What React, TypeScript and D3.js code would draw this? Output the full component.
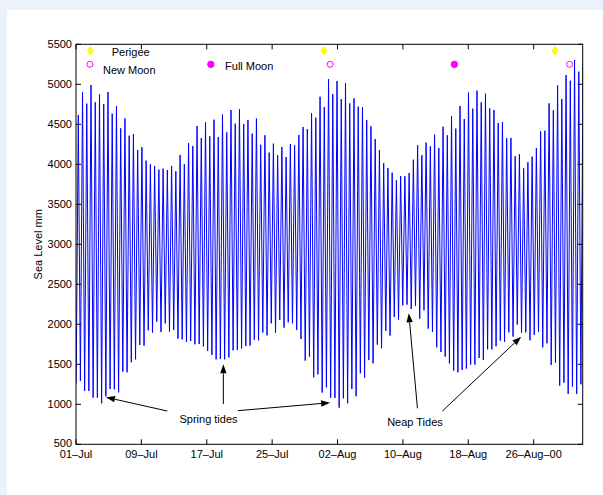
import React, { useEffect, useRef } from "react";
import * as d3 from "d3";

// high water heights (mm), one per semidiurnal tide, 01-Jul onwards
const highs = [
  4616, 4900, 4758, 4991, 4775, 4875, 4754, 4904, 4633, 4729,
  4450, 4575, 4358, 4375, 4179, 4213, 4046, 4000, 3979, 3933,
  3946, 3929, 3979, 3913, 4117, 4000, 4266, 4229, 4479, 4329,
  4525, 4350, 4558, 4341, 4621, 4400, 4679, 4508, 4688, 4504,
  4554, 4383, 4571, 4245, 4363, 4146, 4258, 4113, 4216, 4091,
  4254, 4238, 4366, 4466, 4441, 4638, 4583, 4845, 4716, 5066,
  4879, 5041, 4816, 5016, 4762, 4825, 4720, 4716, 4554, 4475,
  4316, 4179, 4016, 3954, 3895, 3800, 3854, 3850, 3891, 4058,
  4238, 4113, 4271, 4225, 4370, 4204, 4470, 4363, 4604, 4446,
  4729, 4566, 4896, 4696, 4921, 4775, 4883, 4700, 4679, 4516,
  4529, 4325, 4329, 4100, 4125, 3950, 4025, 4095, 4204, 4412,
  4420, 4762, 4675, 4987, 4816, 5116, 5045, 5304, 5158, 5262,
];

// low water heights (mm), each one just before the high of the same index
const lows = [
  1262, 1291, 1166, 1166, 1083, 1083, 1012, 1100, 1191, 1187,
  1150, 1408, 1400, 1525, 1562, 1741, 1733, 1925, 1896, 2033,
  1904, 2012, 1908, 1929, 1821, 1812, 1779, 1791, 1750, 1754,
  1725, 1667, 1617, 1562, 1566, 1562, 1587, 1675, 1679, 1700,
  1729, 1733, 1808, 1800, 1896, 1862, 2012, 1891, 2054, 1958,
  2025, 2012, 1929, 1817, 1546, 1596, 1337, 1375, 1146, 1212,
  1083, 1079, 958, 1075, 1012, 1191, 1100, 1387, 1333, 1554,
  1512, 1746, 1700, 1917, 1858, 2091, 2058, 2237, 2246, 2192,
  2229, 2071, 2175, 1946, 1904, 1712, 1654, 1596, 1512, 1421,
  1400, 1429, 1446, 1496, 1496, 1579, 1554, 1687, 1687, 1725,
  1796, 1779, 1900, 1846, 1996, 1896, 1900, 1800, 1867, 1904,
  1712, 1762, 1492, 1521, 1233, 1271, 1129, 1221, 1129, 1250,
];

const firstLow = 0.02; // days after 01-Jul 00:00
const tidePeriod = 0.519; // days

// x ticks (days after 01-Jul)
const tickDays = [0, 8, 16, 24, 32, 40, 48, 56];
const tickLabels = ["01\u2013Jul", "09\u2013Jul", "17\u2013Jul", "25\u2013Jul", "02\u2013Aug", "10\u2013Aug", "18\u2013Aug", "26\u2013Aug\u201300"];
const yTicks = [500, 1000, 1500, 2000, 2500, 3000, 3500, 4000, 4500, 5000, 5500];

// astronomical events (days after 01-Jul)
const perigeeDays = [1.75, 30.35, 58.6];
const newMoonDays = [1.7, 31.1, 60.4];
const fullMoonDays = [16.5, 46.3];
const perigeeLevel = 5420;
const moonLevel = 5250;

// annotations: [day, level]
const springArrows = [
  [[11.17, 916], [3.67, 1088]],
  [[18.03, 1004], [18.03, 1500]],
  [[19.79, 920], [31.09, 1020]],
];
const neapArrows = [
  [[41.78, 950], [40.72, 2138]],
  [[44.83, 916], [54.47, 1845]],
];

const App = () => {
  const svgRef = useRef(null);

  useEffect(() => {
    drawChart();
  }, []);

  const drawChart = () => {
    const svg = d3.select(svgRef.current);
    svg.selectAll("*").remove();

    const left = 76;
    const right = 582.7;
    const top = 44.3;
    const bottom = 444.3;
    const font = "'Liberation Sans', Arial, Helvetica, sans-serif";

    const x = d3.scaleLinear().domain([0, 62]).range([left, right]);
    const y = d3.scaleLinear().domain([500, 5500]).range([bottom, top]);

    // frame
    svg.append("rect").attr("width", 603).attr("height", 495).attr("fill", "#ebf2fb");
    svg.append("rect").attr("x", 7).attr("y", 10).attr("width", 596).attr("height", 485).attr("fill", "#fff");

    svg
      .append("defs")
      .append("clipPath")
      .attr("id", "plotclip")
      .append("rect")
      .attr("x", left)
      .attr("y", top)
      .attr("width", right - left)
      .attr("height", bottom - top);

    // tide curve: low, high, low, high ...
    const pts = [];
    highs.forEach((h, i) => {
      const tLow = firstLow + i * tidePeriod;
      pts.push([tLow, lows[i]]);
      pts.push([tLow + tidePeriod / 2, h]);
    });

    const line = d3
      .line()
      .x((d) => x(d[0]))
      .y((d) => y(d[1]));

    svg
      .append("path")
      .datum(pts)
      .attr("clip-path", "url(#plotclip)")
      .attr("d", line)
      .attr("fill", "none")
      .attr("stroke", "#0000ff")
      .attr("stroke-width", 1);

    // box
    svg
      .append("rect")
      .attr("x", left)
      .attr("y", top)
      .attr("width", right - left)
      .attr("height", bottom - top)
      .attr("fill", "none")
      .attr("stroke", "#000")
      .attr("stroke-width", 1);

    // x ticks (inward, top and bottom)
    const xt = svg.append("g");
    tickDays.forEach((d, i) => {
      xt.append("line").attr("x1", x(d)).attr("x2", x(d)).attr("y1", bottom).attr("y2", bottom - 5).attr("stroke", "#000");
      xt.append("line").attr("x1", x(d)).attr("x2", x(d)).attr("y1", top).attr("y2", top + 5).attr("stroke", "#000");
      xt.append("text")
        .attr("x", x(d))
        .attr("y", bottom + 14)
        .attr("text-anchor", "middle")
        .attr("font-family", font)
        .attr("font-size", 11)
        .attr("fill", "#000")
        .text(tickLabels[i]);
    });

    // y ticks (inward, left and right)
    const yt = svg.append("g");
    yTicks.forEach((v) => {
      yt.append("line").attr("x1", left).attr("x2", left + 5).attr("y1", y(v)).attr("y2", y(v)).attr("stroke", "#000");
      yt.append("line").attr("x1", right).attr("x2", right - 5).attr("y1", y(v)).attr("y2", y(v)).attr("stroke", "#000");
      yt.append("text")
        .attr("x", left - 4)
        .attr("y", y(v))
        .attr("dy", v === 500 ? "0.2em" : "0.35em")
        .attr("text-anchor", "end")
        .attr("font-family", font)
        .attr("font-size", 11)
        .attr("fill", "#000")
        .text(v);
    });

    svg
      .append("text")
      .attr("transform", `translate(38, ${(top + bottom) / 2}) rotate(-90)`)
      .attr("dy", "0.35em")
      .attr("text-anchor", "middle")
      .attr("font-family", font)
      .attr("font-size", 11)
      .attr("fill", "#000")
      .text("Sea Level mm");

    // events
    svg
      .selectAll(".perigee")
      .data(perigeeDays)
      .enter()
      .append("polygon")
      .attr("points", (d) => {
        const cx = x(d);
        const cy = y(perigeeLevel);
        return `${cx},${cy - 4.2} ${cx + 3.2},${cy} ${cx},${cy + 4.2} ${cx - 3.2},${cy}`;
      })
      .attr("fill", "#ffff00")
      .attr("stroke", "#eeee00")
      .attr("stroke-width", 0.5);

    svg
      .selectAll(".newmoon")
      .data(newMoonDays)
      .enter()
      .append("circle")
      .attr("cx", (d) => x(d))
      .attr("cy", y(moonLevel))
      .attr("r", 3)
      .attr("fill", "none")
      .attr("stroke", "#ff00ff")
      .attr("stroke-width", 1);

    svg
      .selectAll(".fullmoon")
      .data(fullMoonDays)
      .enter()
      .append("circle")
      .attr("cx", (d) => x(d))
      .attr("cy", y(moonLevel))
      .attr("r", 3.6)
      .attr("fill", "#ff00ff");

    const label = (d, v, s) =>
      svg
        .append("text")
        .attr("x", x(d))
        .attr("y", y(v))
        .attr("dy", "0.35em")
        .attr("font-family", font)
        .attr("font-size", 11)
        .attr("fill", "#000")
        .text(s);

    label(4.37, 5400, "Perigee");
    label(3.3, 5179, "New Moon");
    label(18.24, 5232, "Full Moon");
    label(12.66, 815, "Spring tides");
    label(38.07, 779, "Neap Tides");

    // arrows
    const drawArrow = (a) => {
      const x1 = x(a[0][0]);
      const y1 = y(a[0][1]);
      const x2 = x(a[1][0]);
      const y2 = y(a[1][1]);
      const ang = Math.atan2(y2 - y1, x2 - x1);
      const len = 9;
      const hw = 3.2;
      const bx = x2 - len * Math.cos(ang);
      const by = y2 - len * Math.sin(ang);
      svg.append("line").attr("x1", x1).attr("y1", y1).attr("x2", bx).attr("y2", by).attr("stroke", "#000").attr("stroke-width", 1);
      const p = [
        [x2, y2],
        [bx + hw * Math.sin(ang), by - hw * Math.cos(ang)],
        [bx - hw * Math.sin(ang), by + hw * Math.cos(ang)],
      ];
      svg.append("polygon").attr("points", p.map((q) => q.join(",")).join(" ")).attr("fill", "#000");
    };
    springArrows.forEach(drawArrow);
    neapArrows.forEach(drawArrow);
  };

  return (
    <svg
      ref={svgRef}
      width={603}
      height={495}
      style={{ position: "absolute", left: 0, top: 0 }}
    ></svg>
  );
};

export default App;
